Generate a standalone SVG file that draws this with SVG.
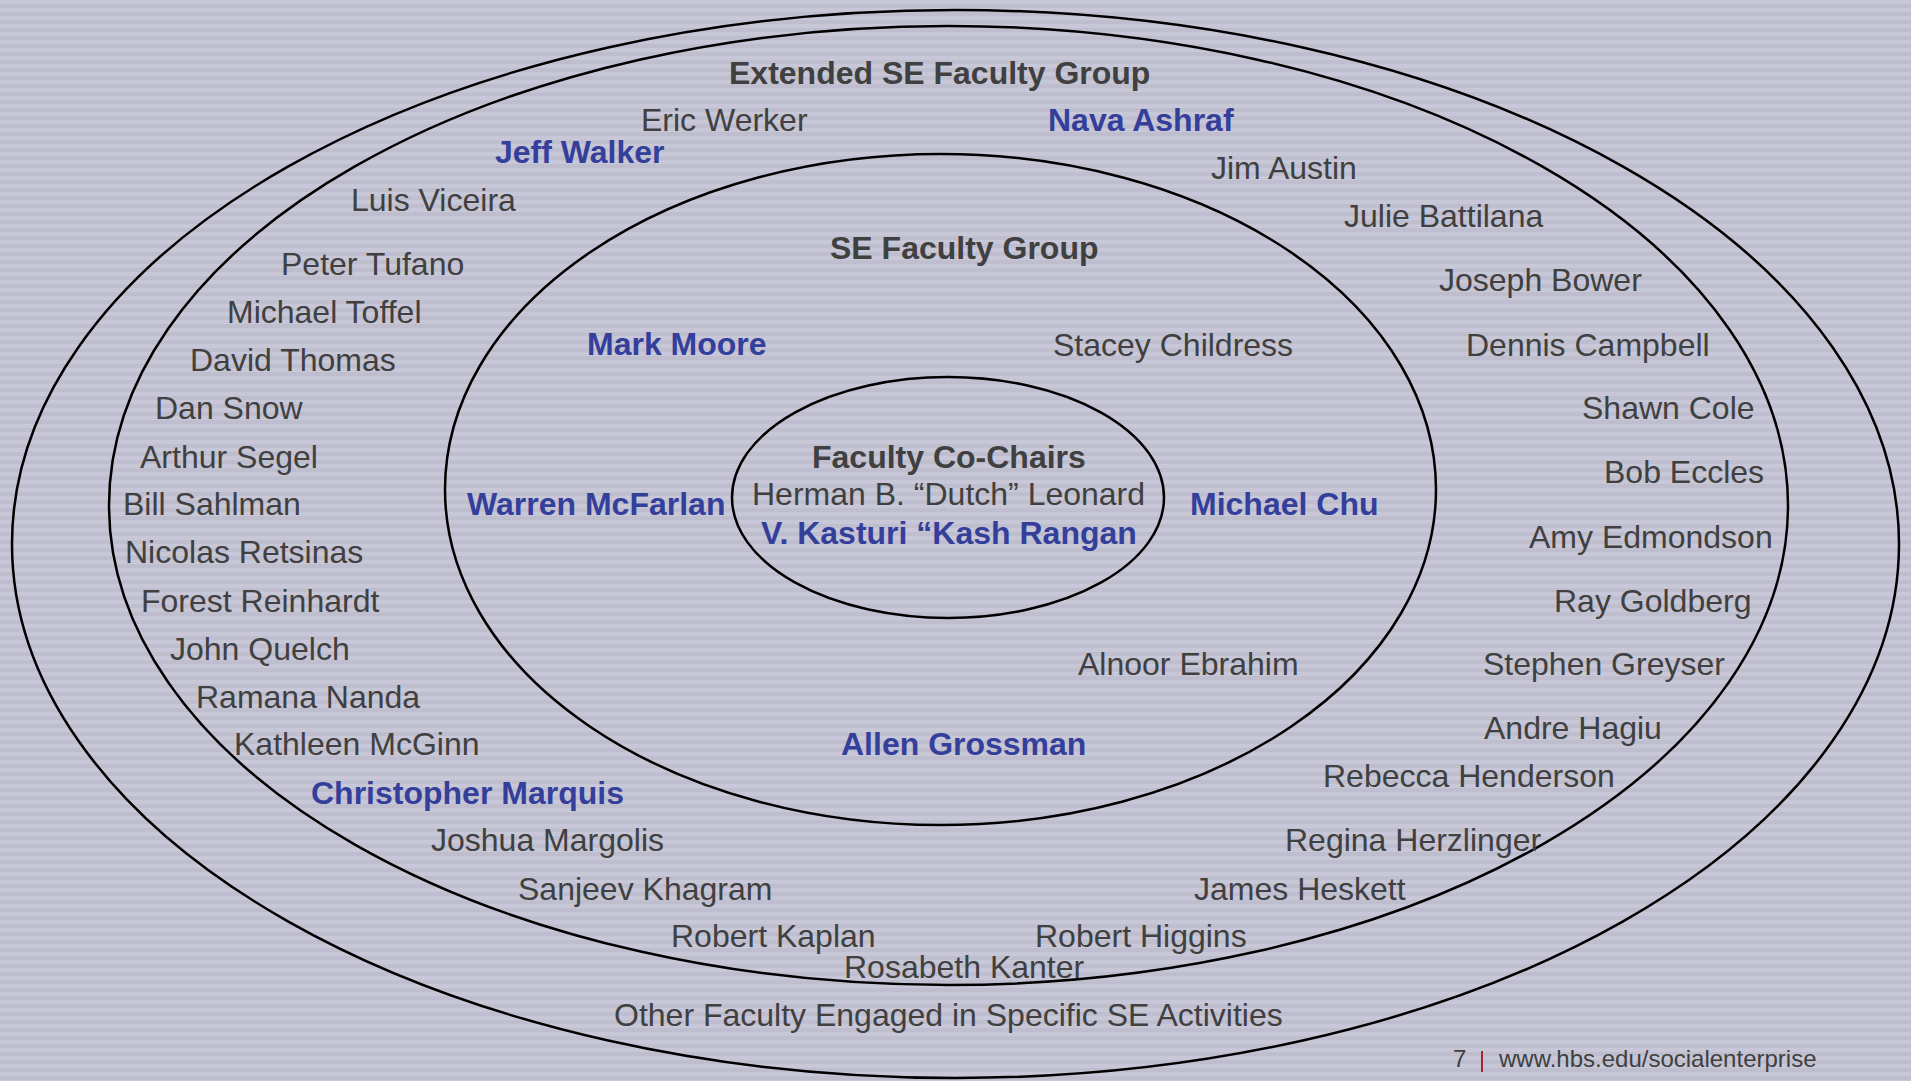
<svg xmlns="http://www.w3.org/2000/svg" width="1911" height="1081" viewBox="0 0 1911 1081">
<defs>
<pattern id="stripes" x="0" y="0" width="8" height="8" patternUnits="userSpaceOnUse">
<rect x="0" y="0" width="8" height="8" fill="#c7c7d7"/>
<rect x="0" y="4" width="8" height="4" fill="#bebece"/>
</pattern>
<style>
text{font-family:"Liberation Sans",Arial,sans-serif;font-size:32px;fill:#404040}
.b{font-weight:bold}
.blue{fill:#343f9b;font-weight:bold}
.ring{fill:none;stroke:#000;stroke-width:2.5}
.foot{font-size:24px}
</style>
</defs>
<rect x="0" y="0" width="1911" height="1081" fill="url(#stripes)"/>
<g id="other-faculty">
<ellipse class="ring" cx="955.5" cy="544" rx="943.5" ry="534"/>
<text x="614" y="1026">Other Faculty Engaged in Specific SE Activities</text>
</g>
<g id="extended-group">
<ellipse class="ring" cx="948.5" cy="505.5" rx="839.5" ry="479.5"/>
<text class="b" x="729" y="84">Extended SE Faculty Group</text>
<text x="641" y="131">Eric Werker</text>
<text class="blue" x="495" y="163">Jeff Walker</text>
<text class="blue" x="1048" y="131">Nava Ashraf</text>
<text x="351" y="211">Luis Viceira</text>
<text x="281" y="275">Peter Tufano</text>
<text x="227" y="323">Michael Toffel</text>
<text x="190" y="371">David Thomas</text>
<text x="155" y="419">Dan Snow</text>
<text x="140" y="468">Arthur Segel</text>
<text x="123" y="515">Bill Sahlman</text>
<text x="125" y="563">Nicolas Retsinas</text>
<text x="141" y="612">Forest Reinhardt</text>
<text x="170" y="660">John Quelch</text>
<text x="196" y="708">Ramana Nanda</text>
<text x="234" y="755">Kathleen McGinn</text>
<text class="blue" x="311" y="804">Christopher Marquis</text>
<text x="431" y="851">Joshua Margolis</text>
<text x="518" y="900">Sanjeev Khagram</text>
<text x="671" y="947">Robert Kaplan</text>
<text x="844" y="978">Rosabeth Kanter</text>
<text x="1035" y="947">Robert Higgins</text>
<text x="1194" y="900">James Heskett</text>
<text x="1285" y="851">Regina Herzlinger</text>
<text x="1323" y="787">Rebecca Henderson</text>
<text x="1484" y="739">Andre Hagiu</text>
<text x="1483" y="675">Stephen Greyser</text>
<text x="1554" y="612">Ray Goldberg</text>
<text x="1529" y="548">Amy Edmondson</text>
<text x="1604" y="483">Bob Eccles</text>
<text x="1582" y="419">Shawn Cole</text>
<text x="1466" y="356">Dennis Campbell</text>
<text x="1439" y="291">Joseph Bower</text>
<text x="1344" y="227">Julie Battilana</text>
<text x="1211" y="179">Jim Austin</text>
</g>
<g id="se-faculty-group">
<ellipse class="ring" cx="940.5" cy="489.5" rx="495.5" ry="335.5"/>
<text class="b" x="830" y="259">SE Faculty Group</text>
<text class="blue" x="587" y="355">Mark Moore</text>
<text x="1053" y="356">Stacey Childress</text>
<text class="blue" x="467" y="515">Warren McFarlan</text>
<text class="blue" x="1190" y="515">Michael Chu</text>
<text x="1078" y="675">Alnoor Ebrahim</text>
<text class="blue" x="841" y="755">Allen Grossman</text>
</g>
<g id="faculty-co-chairs">
<ellipse class="ring" cx="948" cy="497.5" rx="216" ry="120.5"/>
<text class="b" x="812" y="468">Faculty Co-Chairs</text>
<text x="752" y="505">Herman B. “Dutch” Leonard</text>
<text class="blue" x="761" y="544">V. Kasturi “Kash Rangan</text>
</g>
<g id="connectors"/>
<g id="footer">
<text class="foot" x="1453" y="1067">7</text>
<line x1="1482" y1="1051" x2="1482" y2="1072" stroke="#a8262e" stroke-width="2"/>
<text class="foot" x="1499" y="1067">www.hbs.edu/socialenterprise</text>
</g>
</svg>
